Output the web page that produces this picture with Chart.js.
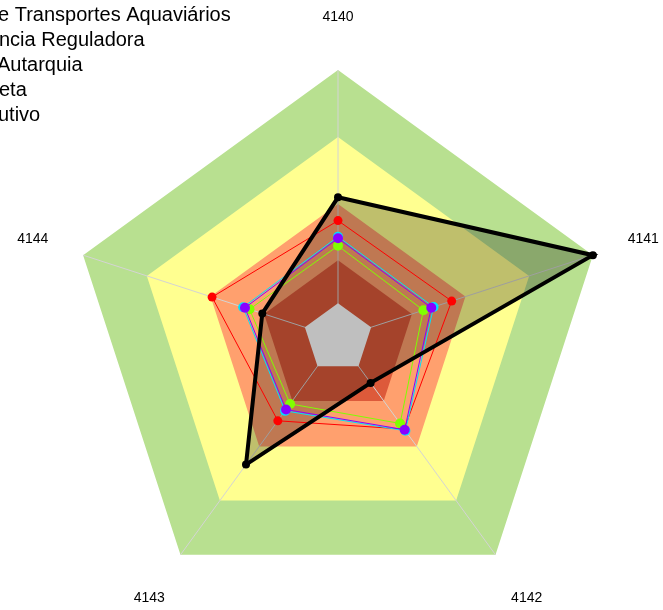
<!DOCTYPE html>
<html>
<head>
<meta charset="utf-8">
<script src="https://cdn.jsdelivr.net/npm/chart.js@4.4.1/dist/chart.umd.min.js"></script>
<style>
  html, body { margin: 0; padding: 0; background: #fff; }
  canvas { display: block; }
</style>
</head>
<body>
<canvas id="radar" width="663" height="610"></canvas>
<script>
// axis labels and legend (legend is cut off on the left in the original)
const axisLabels = ['4140', '4141', '4142', '4143', '4144'];
const legendLabels = ['e Transportes Aquaviários', 'ncia Reguladora', 'Autarquia', 'eta', 'utivo'];
const legendOffsets = [-2, -1, -3, -1, -2];

// background bands, inner to outer
const bandLevels = [0.13, 0.29, 0.5, 0.75, 1.0];
const bandColors = ['#ffffff', '#dd5a3a', '#ffa06e', '#ffff90', '#b8e090'];

// series values
const antaq = [0.525, 1.0, 0.207, 0.584, 0.297];
const redSeries = [0.438, 0.446, 0.42, 0.382, 0.494];
const cyanSeries = [0.378, 0.375, 0.428, 0.336, 0.372];
const purpleSeries = [0.372, 0.366, 0.423, 0.33, 0.365];
const greenSeries = [0.344, 0.335, 0.394, 0.304, 0.347];

var datasets = [];

// black line on top
datasets.push({
    data: antaq, borderColor: '#000', borderWidth: 4, fill: false,
    pointRadius: 4, pointBackgroundColor: '#000', pointBorderWidth: 0, order: 0
});
datasets.push({
    data: purpleSeries, borderColor: '#8a00ff', borderWidth: 1, fill: false,
    pointRadius: 5, pointBackgroundColor: '#8a00ff', pointBorderWidth: 0, order: 1
});
datasets.push({
    data: cyanSeries, borderColor: '#00e0ff', borderWidth: 1, fill: false,
    pointRadius: 5, pointBackgroundColor: '#00e0ff', pointBorderWidth: 0, order: 2
});
datasets.push({
    data: greenSeries, borderColor: '#80ff00', borderWidth: 1, fill: false,
    pointRadius: 5, pointBackgroundColor: '#80ff00', pointBorderWidth: 0, order: 3
});
datasets.push({
    data: redSeries, borderColor: '#ff0000', borderWidth: 1, fill: false,
    pointRadius: 4.5, pointBackgroundColor: '#ff0000', pointBorderWidth: 0, order: 4
});
// translucent fill of the black series, under the coloured lines
datasets.push({
    data: antaq, borderWidth: 0, borderColor: 'rgba(0,0,0,0)', fill: 'origin',
    backgroundColor: 'rgba(0,0,0,0.25)', pointRadius: 0, order: 5
});
// bands
const firstBand = datasets.length;
bandLevels.forEach(function(level, i) {
    datasets.push({
        data: axisLabels.map(function() { return level; }),
        borderWidth: 0, borderColor: 'rgba(0,0,0,0)', fill: 'origin',
        backgroundColor: bandColors[i], pointRadius: 0, order: 6 + i
    });
});

// spokes go above the coloured bands but under the centre and the series
const spokesPlugin = {
    id: 'spokes',
    afterDatasetDraw(chart, args) {
        if (args.index !== firstBand + 1) return;
        const ctx = chart.ctx;
        const scale = chart.scales.r;
        ctx.save();
        ctx.strokeStyle = '#d4d4d4';
        ctx.lineWidth = 1;
        axisLabels.forEach(function(lbl, i) {
            const a = scale.getPointPositionForValue(i, scale.min);
            const b = scale.getPointPositionForValue(i, scale.max);
            ctx.beginPath();
            ctx.moveTo(a.x, a.y);
            ctx.lineTo(b.x, b.y);
            ctx.stroke();
        });
        ctx.restore();
    }
};

// axis labels and legend text
const textPlugin = {
    id: 'texts',
    afterDraw(chart) {
        const ctx = chart.ctx;
        const scale = chart.scales.r;
        ctx.save();
        ctx.fillStyle = '#000';
        ctx.font = '14px "Liberation Sans", Arial, sans-serif';
        ctx.textAlign = 'center';
        ctx.textBaseline = 'middle';
        axisLabels.forEach(function(lbl, i) {
            const p = scale.getPointPosition(i, 321);
            ctx.fillText(lbl, p.x, p.y);
        });
        ctx.font = '20px "Liberation Sans", Arial, sans-serif';
        ctx.textAlign = 'left';
        legendLabels.forEach(function(lbl, i) {
            ctx.fillText(lbl, legendOffsets[i], 15.5 + 25 * i);
        });
        ctx.restore();
    }
};

new Chart(document.getElementById('radar'), {
    type: 'radar',
    data: { labels: axisLabels, datasets: datasets },
    options: {
        responsive: false,
        animation: false,
        devicePixelRatio: 1,
        layout: { padding: { left: 70, right: 57, top: 70, bottom: 4 } },
        plugins: { legend: { display: false }, tooltip: { enabled: false } },
        elements: { line: { tension: 0 } },
        scales: {
            r: {
                min: 0,
                max: 1,
                ticks: { display: false },
                grid: { display: false },
                angleLines: { display: false },
                pointLabels: { display: false }
            }
        }
    },
    plugins: [spokesPlugin, textPlugin]
});
</script>
</body>
</html>
